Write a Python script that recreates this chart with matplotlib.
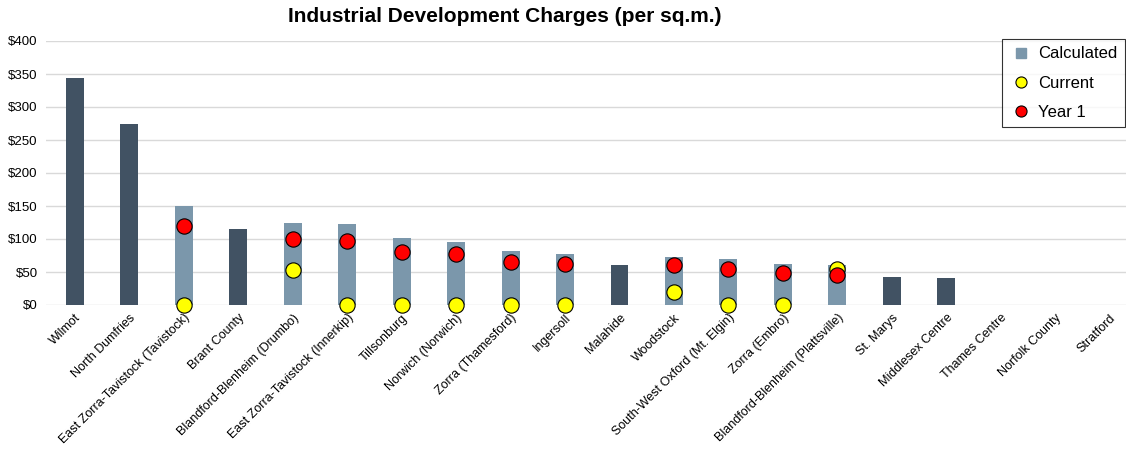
import numpy as np
import matplotlib
matplotlib.use('Agg')
import matplotlib.pyplot as plt
from matplotlib.lines import Line2D

plt.rcParams['font.family'] = ['Liberation Sans', 'DejaVu Sans']

municipalities = [
    "Wilmot", "North Dumfries", "East Zorra-Tavistock (Tavistock)", "Brant County",
    "Blandford-Blenheim (Drumbo)", "East Zorra-Tavistock (Innerkip)", "Tillsonburg",
    "Norwich (Norwich)", "Zorra (Thamesford)", "Ingersoll", "Malahide", "Woodstock",
    "South-West Oxford (Mt. Elgin)", "Zorra (Embro)", "Blandford-Blenheim (Plattsville)",
    "St. Marys", "Middlesex Centre", "Thames Centre", "Norfolk County", "Stratford",
]
nan = np.nan
# comparator municipalities (dark bars)
other = [344, 275, nan, 115, nan, nan, nan, nan, nan, nan, 61, nan,
         nan, nan, nan, 43, 41, 0, 0, 0]
# calculated charges (light bars)
calculated = [nan, nan, 150, nan, 125, 122, 101, 96, 82, 78, nan, 72,
              70, 62, 60, nan, nan, nan, nan, nan]
current = [nan, nan, 0, nan, 53, 0, 0, 0, 0, 0, nan, 19,
           0, 0, 55, nan, nan, nan, nan, nan]
year1 = [nan, nan, 120, nan, 100, 97, 80, 77, 65, 62, nan, 60,
         55, 48, 46, nan, nan, nan, nan, nan]

dark = '#415263'
light = '#7b97ab'

fig = plt.figure(figsize=(11.26, 4.51), dpi=100)
ax = fig.add_axes([46 / 1126, 1 - 305 / 451, 1 - 46 / 1126, 264 / 451])

x = np.arange(len(municipalities))
ax.bar(x, other, width=0.33, color=dark, zorder=2)
ax.bar(x, calculated, width=0.33, color=light, zorder=2)
ax.plot(x, current, 'o', ms=11, mfc='#ffff00', mec='black', mew=0.8, zorder=3, clip_on=False)
ax.plot(x, year1, 'o', ms=11, mfc='#ff0000', mec='black', mew=0.8, zorder=4, clip_on=False)

ax.set_xlim(-0.53, 19.3)
ax.set_ylim(0, 400)
ax.set_yticks(range(0, 401, 50))
ax.set_yticklabels([f"${v}" for v in range(0, 401, 50)], fontsize=9.5)
ax.set_xticks(x)
ax.set_xticklabels(municipalities, rotation=45, ha='right', rotation_mode='anchor', fontsize=9)
ax.tick_params(length=0, pad=6)
ax.tick_params(axis='x', pad=5)
ax.grid(axis='y', color='#d9d9d9', lw=1, zorder=0)
for s in ax.spines.values():
    s.set_visible(False)

fig.text(505 / 1126, 1 - 17 / 451, "Industrial Development Charges (per sq.m.)",
         ha='center', va='center', fontsize=15, fontweight='bold')

handles = [
    Line2D([], [], ls='', marker='s', ms=7, mfc=light, mec=light),
    Line2D([], [], ls='', marker='o', ms=8, mfc='#ffff00', mec='black', mew=0.8),
    Line2D([], [], ls='', marker='o', ms=8, mfc='#ff0000', mec='black', mew=0.8),
]
leg = fig.legend(handles, ["Calculated", "Current", "Year 1"],
                 loc='upper right', bbox_to_anchor=(1125 / 1126, 1 - 39 / 451),
                 fontsize=12, frameon=True, fancybox=False, borderpad=0.45,
                 labelspacing=0.85, handletextpad=0.4, handlelength=1.3,
                 borderaxespad=0)
leg.get_frame().set_edgecolor('black')
leg.get_frame().set_linewidth(0.8)

fig.savefig('out.png', dpi=100)
